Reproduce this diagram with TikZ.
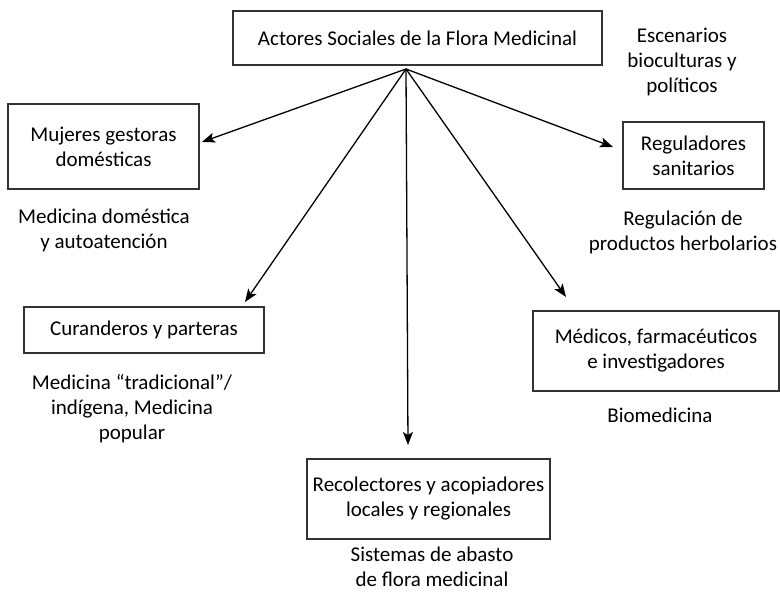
\documentclass[tikz,border=0pt]{standalone}
\usepackage{fontspec}
\setmainfont{Carlito}
\usetikzlibrary{arrows.meta}
\begin{document}
\begin{tikzpicture}[x=1pt,y=-1pt,
  txt/.style={align=center,font=\fontsize{21}{25}\selectfont,inner sep=0pt},
  boxline/.style={draw=black!80,line width=1.4pt},
  conn/.style={line width=1.3pt,-{Stealth[length=13pt,width=10pt,inset=3pt]}}]
\useasboundingbox (0,0) rectangle (780,593);
% boxes
\draw[boxline] (233,11) rectangle (602,65);
\node[txt] (main) at (417.5,38) {Actores Sociales de la Flora Medicinal};
\draw[boxline] (8,104) rectangle (199,189);
\node[txt] (muj) at (103.5,147) {Mujeres gestoras\\domésticas};
\draw[boxline] (623,122) rectangle (764,189);
\node[txt] (reg) at (693.5,156) {Reguladores\\sanitarios};
\draw[boxline] (24,307) rectangle (264,353);
\node[txt] (cur) at (144,330) {Curanderos y parteras};
\draw[boxline] (533,311) rectangle (779,391);
\node[txt] (med) at (656,351) {Médicos, farmacéuticos\\e investigadores};
\draw[boxline] (307,459) rectangle (550,539);
\node[txt] (rec) at (428.5,499) {Recolectores y acopiadores\\locales y regionales};
% labels
\node[txt] (esc) at (682,62) {Escenarios\\bioculturas y\\políticos};
\node[txt] (lmuj) at (104,230) {Medicina doméstica\\y autoatención};
\node[txt] (lreg) at (683,232) {Regulación de\\productos herbolarios};
\node[txt] (lcur) at (132,409) {Medicina “tradicional”/\\indígena, Medicina\\popular};
\node[txt] (lmed) at (660,415) {Biomedicina};
\node[txt] (lrec) at (432,567) {Sistemas de abasto\\de flora medicinal};
% connectors
\coordinate (apex) at (406,69);
\coordinate (tmuj) at (202,142);
\coordinate (treg) at (613,147);
\coordinate (tcur) at (245,302);
\coordinate (tmed) at (566,297);
\coordinate (trec) at (408,445);
\draw[conn] (apex) -- (tmuj);
\draw[conn] (apex) -- (treg);
\draw[conn] (apex) -- (tcur);
\draw[conn] (apex) -- (tmed);
\draw[conn] (apex) -- (trec);
\end{tikzpicture}
\end{document}
